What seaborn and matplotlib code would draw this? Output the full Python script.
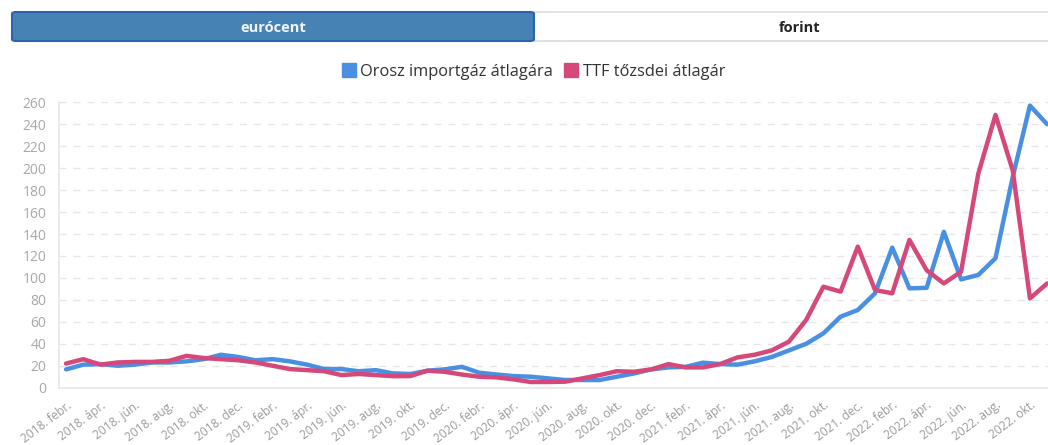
import numpy as np
import pandas as pd
import matplotlib.pyplot as plt
import seaborn as sns
from matplotlib.patches import FancyBboxPatch
from matplotlib.lines import Line2D

# havi adatok 2018. febr. - 2022. nov., eurócent
honapok = ['jan.', 'febr.', 'márc.', 'ápr.', 'máj.', 'jún.',
           'júl.', 'aug.', 'szept.', 'okt.', 'nov.', 'dec.']
kezdo_ev = 2018
kezdo_honap = 1  # febr.

orosz = [16.7, 21, 21.5, 20, 21, 23, 23, 24, 26, 30,
         28, 25, 26, 24, 21, 17, 17, 15, 16, 13,
         12.5, 15.5, 16.7, 19, 13.7, 12, 10.6, 10, 8.5, 7,
         7, 7, 10, 13, 16.7, 18.5, 19, 22.8, 21.5, 21,
         24, 28, 34, 40, 49.5, 64.7, 70.8, 86, 127.6, 90.5,
         91, 142, 98.7, 102.7, 118, 192, 257, 240]
ttf = [22, 26, 21, 23, 23.5, 23.5, 24.5, 29, 27, 26,
       25, 23, 20, 17, 16, 15, 11.5, 12.5, 11.5, 10.5,
       10.6, 15.5, 14.5, 12, 10, 9.4, 7.6, 5.2, 5.2, 5.5,
       8.5, 11.5, 15, 14.5, 16.7, 21.5, 18.5, 18.5, 21.5, 27.6,
       30, 34, 42, 61.7, 92, 87.5, 128.5, 89, 86, 134.6,
       107, 95, 105.7, 195, 248.5, 198, 81.4, 95]

nev_orosz = 'Orosz importgáz átlagára'
nev_ttf = 'TTF tőzsdei átlagár'
szinek = {nev_orosz: '#4a90e2', nev_ttf: '#d6487a'}

cimkek = []
for i in range(len(orosz)):
    m = kezdo_honap + i
    cimkek.append(f'{kezdo_ev + m // 12}. {honapok[m % 12]}')

df = pd.DataFrame({
    'idx': list(range(len(orosz))) * 2,
    'ertek': orosz + ttf,
    'sorozat': [nev_orosz] * len(orosz) + [nev_ttf] * len(ttf),
})

sns.set_style('white')
plt.rcParams['font.family'] = ['Open Sans', 'DejaVu Sans']

W, H = 1048, 445
fig = plt.figure(figsize=(W / 100, H / 100), dpi=100)
ax = fig.add_axes([59 / W, (H - 387.7) / H, (W - 59) / W, (387.7 - 102.3) / H])

sns.lineplot(data=df, x='idx', y='ertek', hue='sorozat', palette=szinek,
             linewidth=3.2, ax=ax, legend=False,
             solid_joinstyle='round', solid_capstyle='round')

ax.set_xlim(-0.41, 57.05)
ax.set_ylim(0, 260)
ax.set_yticks(range(0, 261, 20))
ax.set_xticks(range(len(cimkek)))
ax.set_xticklabels([c if i % 2 == 0 else '' for i, c in enumerate(cimkek)],
                   rotation=37, ha='right', rotation_mode='anchor')
ax.set_xlabel('')
ax.set_ylabel('')

ax.tick_params(axis='x', length=6, color='#e6e6e6', labelcolor='#9a9a9a',
               labelsize=8.6, pad=2)
ax.tick_params(axis='y', length=6, color='#e6e6e6', labelcolor='#a8a8a8',
               labelsize=10, pad=3)
ax.grid(axis='y', color='#e6e6e6', linestyle=(0, (5, 5)), linewidth=1)
ax.grid(axis='x', visible=False)
for s in ['top', 'right']:
    ax.spines[s].set_visible(False)
for s in ['left', 'bottom']:
    ax.spines[s].set_color('#e6e6e6')
    ax.spines[s].set_linewidth(1.2)

# gombok
gomb1 = FancyBboxPatch((12 / W, (H - 41) / H), 522 / W, 29 / H,
                       boxstyle='round,pad=0,rounding_size=0.004',
                       transform=fig.transFigure, facecolor='#4682b4',
                       edgecolor='#2f62b0', linewidth=1.5)
gomb2 = FancyBboxPatch((534 / W, (H - 41) / H), 520 / W, 29 / H,
                       boxstyle='square,pad=0',
                       transform=fig.transFigure, facecolor='white',
                       edgecolor='#dcdcdc', linewidth=1.2)
fig.patches.extend([gomb2, gomb1])
fig.text(273 / W, 1 - 27.5 / H, 'eurócent', color='#f2f6fa', fontsize=10.5,
         fontweight='bold', ha='center', va='center')
fig.text(800 / W, 1 - 27.5 / H, 'forint', color='#222222', fontsize=10.5,
         fontweight='bold', ha='center', va='center')

kezelok = [Line2D([], [], marker='s', linestyle='', markersize=10.5,
                  markerfacecolor=szinek[n], markeredgecolor=szinek[n])
           for n in [nev_orosz, nev_ttf]]
leg = fig.legend(kezelok, [nev_orosz, nev_ttf], loc='center',
                 bbox_to_anchor=(533 / W, 1 - 72 / H), ncol=2, frameon=False,
                 fontsize=11.8, handletextpad=0.2, columnspacing=0.6,
                 handlelength=1.0)
for t in leg.get_texts():
    t.set_color('#333333')

fig.savefig('out.png', dpi=100)
